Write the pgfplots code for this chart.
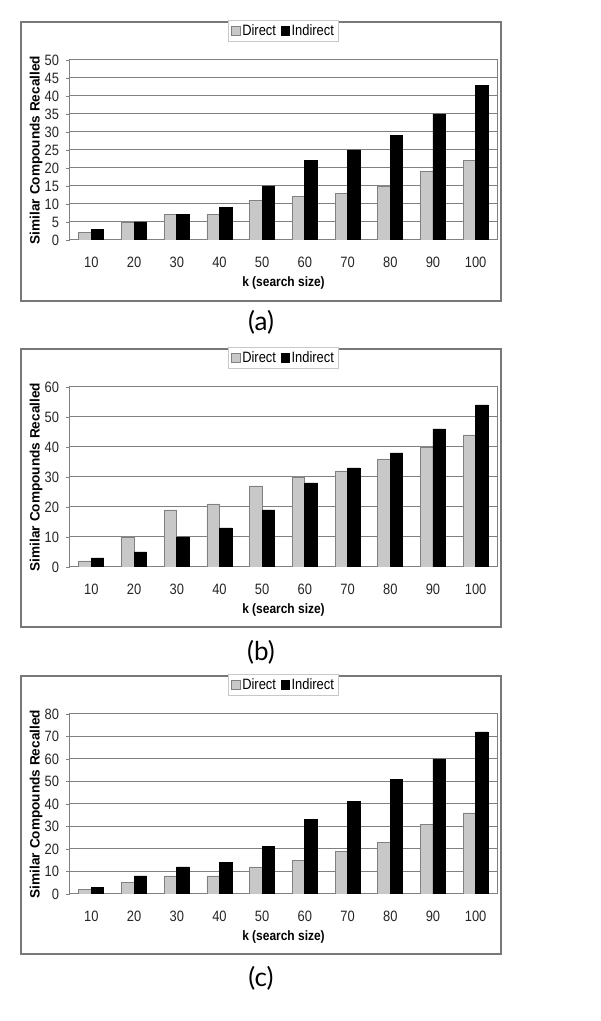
\documentclass[border=0pt]{standalone}
\usepackage{pgfplots}
\usepackage{pgfplotstable}
\pgfplotsset{compat=1.18}
\usepackage{fontspec}
\setmainfont{Liberation Sans}
\newfontfamily\capfont{Lato}

\definecolor{directgray}{RGB}{200,200,200}
\definecolor{edgegray}{RGB}{128,128,128}
\definecolor{framegray}{RGB}{120,120,120}

\pgfplotstableread{
k d i
0 2 3
1 5 5
2 7 7
3 7 9
4 11 15
5 12 22
6 13 25
7 15 29
8 19 35
9 22 43
}\dataA
\pgfplotstableread{
k d i
0 2 3
1 10 5
2 19 10
3 21 13
4 27 19
5 30 28
6 32 33
7 36 38
8 40 46
9 44 54
}\dataB
\pgfplotstableread{
k d i
0 2 3
1 5 8
2 8 12
3 8 14
4 12 21
5 15 33
6 19 41
7 23 51
8 31 60
9 36 72
}\dataC

\pgfplotsset{
  panel/.style={
    scale only axis, width=213.5pt, height=90pt,
    ybar=0pt, bar width=6.25pt,
    xmin=-0.5, xmax=9.5, ymin=0,
    /pgf/number format/assume math mode=true,
    xtick={0,...,9},
    xticklabels={10,20,30,40,50,60,70,80,90,100},
    major x tick style={draw=none},
    extra x ticks={-0.5,0.5,1.5,2.5,3.5,4.5,5.5,6.5,7.5,8.5,9.5},
    extra x tick labels={},
    extra x tick style={grid=none, major tick length=2.5pt, tick style={draw=edgegray!70, line width=0.4pt}},
    xtick pos=bottom, ytick pos=left, tick align=outside,
    major tick length=2pt,
    ymajorgrids, grid style={draw=edgegray, line width=0.5pt},
    axis line style={draw=edgegray, line width=0.5pt},
    tick style={draw=edgegray},
    tick label style={font=\fontsize{7.5}{8}\selectfont, text=black!85, xscale=0.86},
    xticklabel style={yshift=-3pt},
    yticklabel style={xshift=-0.5pt},
    label style={font=\bfseries\fontsize{6.8}{8}\selectfont},
    xlabel={k (search size)},
    ylabel={Similar Compounds Recalled},
    xlabel style={at={(axis description cs:0.5,0)}, anchor=center, yshift=-21.5pt, xscale=0.88},
    ylabel style={at={(axis description cs:0,0.5)}, anchor=center, yshift=17pt},
    legend columns=2,
    legend style={at={(0.5,1)}, anchor=south, yshift=9pt,
      draw=directgray, line width=0.5pt, inner xsep=1.5pt, inner ysep=0.5pt,
      font=\fontsize{7.5}{8}\selectfont,
      nodes={inner ysep=1.2pt, inner xsep=1pt, xscale=0.86},
      /tikz/every even column/.append style={column sep=1.5pt}},
    legend image code/.code={\fill[##1] (0pt,-2.2pt) rectangle (4.2pt,2.3pt);},
  },
  dstyle/.style={fill=directgray, draw=edgegray, line width=0.4pt},
  istyle/.style={fill=black, draw=black, line width=0.4pt},
}

\begin{document}
\begin{tikzpicture}
\path[fill=white] (0pt,0pt) rectangle (300pt,510.5pt);

% Panel (a)
\draw[framegray, line width=0.6pt] (10.5pt,360pt) rectangle (250.5pt,499.5pt);
\begin{axis}[panel, at={(35pt,390.5pt)}, anchor=south west,
  ymax=50, ytick={0,5,...,50}]
\addplot[dstyle] table[x=k, y=d] {\dataA};
\addplot[istyle] table[x=k, y=i] {\dataA};
\legend{Direct, Indirect}
\end{axis}
\node[font=\capfont\fontsize{13}{14}\selectfont] at (130.5pt,349.5pt) {(a)};

% Panel (b)
\draw[framegray, line width=0.6pt] (10.5pt,197pt) rectangle (250.5pt,336pt);
\begin{axis}[panel, at={(35pt,227pt)}, anchor=south west,
  ymax=60, ytick={0,10,...,60}]
\addplot[dstyle] table[x=k, y=d] {\dataB};
\addplot[istyle] table[x=k, y=i] {\dataB};
\legend{Direct, Indirect}
\end{axis}
\node[font=\capfont\fontsize{13}{14}\selectfont] at (130.5pt,184.5pt) {(b)};

% Panel (c)
\draw[framegray, line width=0.6pt] (10.5pt,33.5pt) rectangle (250.5pt,172.5pt);
\begin{axis}[panel, at={(35pt,63.5pt)}, anchor=south west,
  ymax=80, ytick={0,10,...,80}]
\addplot[dstyle] table[x=k, y=d] {\dataC};
\addplot[istyle] table[x=k, y=i] {\dataC};
\legend{Direct, Indirect}
\end{axis}
\node[font=\capfont\fontsize{13}{14}\selectfont] at (130.5pt,21.5pt) {(c)};
\end{tikzpicture}
\end{document}
